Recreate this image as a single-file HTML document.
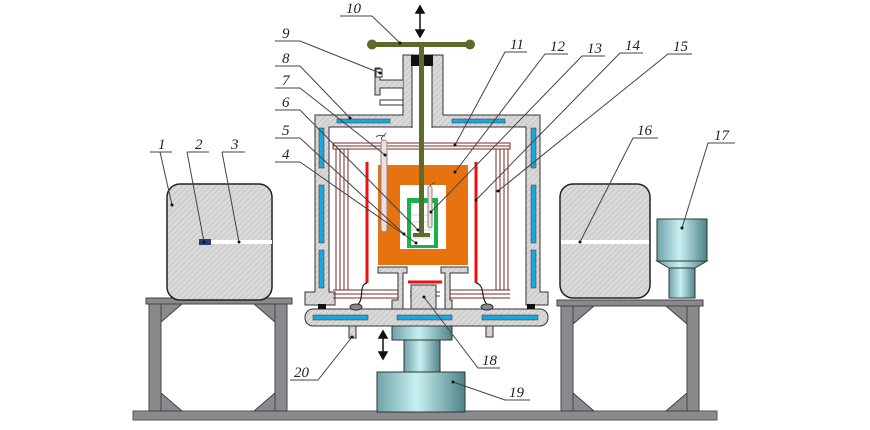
<!DOCTYPE html>
<html><head><meta charset="utf-8"><style>html,body{margin:0;padding:0;background:#fff}svg{display:block}</style></head><body>
<svg width="870" height="430" viewBox="0 0 870 430" xmlns="http://www.w3.org/2000/svg">
<defs>
<pattern id="h" width="4" height="4" patternUnits="userSpaceOnUse" patternTransform="rotate(45)">
<rect width="4" height="4" fill="#d9d9d9"/><line x1="0" y1="0" x2="0" y2="4" stroke="#b5b5b5" stroke-width="1"/></pattern>
<linearGradient id="cy" x1="0" x2="1" y1="0" y2="0">
<stop offset="0" stop-color="#6fa3a8"/><stop offset="0.45" stop-color="#c8f0f2"/><stop offset="1" stop-color="#4f8388"/></linearGradient>
</defs>
<rect x="133" y="411" width="584" height="9" fill="#8a8a8e" stroke="#555" stroke-width="1"/>
<g fill="#8a8a8e" stroke="#444" stroke-width="1">
<rect x="146" y="298" width="146" height="6"/>
<rect x="149" y="304" width="12" height="107"/><rect x="275" y="304" width="12" height="107"/>
<polygon points="161,304 182,304 161,322"/><polygon points="275,304 254,304 275,322"/>
<polygon points="161,411 182,411 161,393"/><polygon points="275,411 254,411 275,393"/>
<rect x="557" y="300" width="146" height="6"/>
<rect x="561" y="306" width="12" height="105"/><rect x="687" y="306" width="12" height="105"/>
<polygon points="573,306 594,306 573,324"/><polygon points="687,306 666,306 687,324"/>
<polygon points="573,411 594,411 573,393"/><polygon points="687,411 666,411 687,393"/>
</g>
<rect x="167" y="184" width="105" height="116" rx="13" fill="url(#h)" stroke="#222" stroke-width="1.5"/>
<rect x="199" y="240" width="73" height="4" fill="#fff"/><rect x="199" y="239" width="12" height="6" fill="#2a3b7a"/>
<rect x="560" y="184" width="90" height="114" rx="13" fill="url(#h)" stroke="#222" stroke-width="1.5"/>
<rect x="561" y="240" width="88" height="4" fill="#fff"/>
<rect x="657" y="219" width="50" height="42" fill="url(#cy)" stroke="#333"/>
<polygon points="657,261 707,261 695,268 669,268" fill="url(#cy)" stroke="#333"/>
<rect x="669" y="268" width="26" height="30" fill="url(#cy)" stroke="#333"/>
<rect x="392" y="326" width="60" height="14" fill="url(#cy)" stroke="#333"/>
<rect x="404" y="340" width="36" height="32" fill="url(#cy)" stroke="#333"/>
<rect x="377" y="372" width="88" height="40" fill="url(#cy)" stroke="#333"/>
<path d="M315,115 H403 V55 H443 V115 H540 V292 H548 V305 H526 V127 H329 V292 H335 V305 H305 V292 H315 Z" fill="url(#h)" stroke="#333" stroke-width="1"/>
<path d="M412,66 V128 M432,66 V128" stroke="#333"/>
<rect x="412.5" y="66" width="19" height="62" fill="#fff"/>
<path d="M403,80 H380 V68 H375 V95 H380 V88 H403" fill="url(#h)" stroke="#333"/>
<rect x="376" y="69" width="6" height="8" fill="#fff" stroke="#333"/>
<rect x="380" y="100" width="23" height="5" fill="#fff" stroke="#333"/>
<rect x="411" y="55" width="22" height="11" fill="#111"/>
<g fill="#1aa7e0" stroke="#333" stroke-width="0.5">
<rect x="337" y="119" width="53" height="4"/><rect x="452" y="119" width="53" height="4"/>
<rect x="319" y="128" width="5" height="40"/><rect x="319" y="185" width="5" height="58"/><rect x="319" y="250" width="5" height="38"/>
<rect x="531" y="128" width="5" height="40"/><rect x="531" y="185" width="5" height="58"/><rect x="531" y="250" width="5" height="38"/>
</g>
<g stroke="#7a2a20" stroke-width="1" fill="none">
<rect x="333" y="143" width="177" height="6" fill="#fff"/>
<line x1="333" y1="146" x2="510" y2="146"/>
<line x1="336" y1="149" x2="336" y2="290"/><line x1="340" y1="149" x2="340" y2="290"/><line x1="344" y1="149" x2="344" y2="290"/><line x1="348" y1="149" x2="348" y2="290"/>
<line x1="496" y1="149" x2="496" y2="290"/><line x1="500" y1="149" x2="500" y2="290"/><line x1="504" y1="149" x2="504" y2="290"/><line x1="508" y1="149" x2="508" y2="290"/>
<line x1="333" y1="290" x2="398" y2="290"/><line x1="333" y1="294" x2="398" y2="294"/><line x1="333" y1="298" x2="398" y2="298"/>
<line x1="450" y1="290" x2="510" y2="290"/><line x1="450" y1="294" x2="510" y2="294"/><line x1="450" y1="298" x2="510" y2="298"/>
<line x1="410" y1="292" x2="440" y2="292"/><line x1="410" y1="296" x2="440" y2="296"/>
</g>
<g stroke="#ee1111" stroke-width="3" fill="none">
<line x1="367" y1="162" x2="367" y2="283"/><line x1="476" y1="162" x2="476" y2="283"/><line x1="408" y1="282" x2="442" y2="282"/>
</g>
<path d="M367,283 C358,285 365,300 357,305 M476,283 C486,285 480,300 488,305" stroke="#222" stroke-width="1.2" fill="none"/>
<rect x="378" y="165" width="90" height="100" fill="#e6730f"/>
<rect x="400" y="185" width="46" height="64" fill="#fff"/>
<rect x="407" y="198" width="31" height="50" fill="#19b24a"/>
<rect x="411" y="203" width="23" height="42" fill="#fff"/>
<g stroke="#aaa" stroke-width="0.6"><line x1="412" y1="215" x2="433" y2="215"/><line x1="412" y1="222" x2="433" y2="222"/><line x1="412" y1="230" x2="433" y2="230"/><line x1="412" y1="238" x2="433" y2="238"/></g>
<path d="M378,267 H407 V273 H403 V309 H411 V285 H436 V309 H445 V273 H441 V267 H468 V273 H450 V300 H452 V310 H392 V300 H398 V273 H378 Z" fill="url(#h)" stroke="#333"/>
<rect x="305" y="309" width="243" height="17" rx="8" fill="url(#h)" stroke="#333"/>
<g fill="#1aa7e0" stroke="#333" stroke-width="0.5"><rect x="313" y="315" width="55" height="5"/><rect x="397" y="315" width="55" height="5"/><rect x="482" y="315" width="56" height="5"/></g>
<rect x="349" y="326" width="7" height="12" fill="url(#h)" stroke="#333"/><rect x="486" y="326" width="7" height="11" fill="url(#h)" stroke="#333"/>
<rect x="318" y="304" width="8" height="5" fill="#111"/><rect x="527" y="304" width="8" height="5" fill="#111"/>
<ellipse cx="356" cy="307" rx="6" ry="3" fill="#888" stroke="#333"/><ellipse cx="487" cy="307" rx="6" ry="3" fill="#888" stroke="#333"/>
<rect x="381" y="140" width="6" height="92" rx="3" fill="#f2dcdc" stroke="#888"/>
<path d="M382,140 c-2,-4 3,-4 4,-7 M376,137 c3,-3 6,-1 9,-1" stroke="#555" fill="none"/>
<rect x="428" y="186" width="4" height="42" rx="2" fill="#f2dcdc" stroke="#888"/>
<path d="M430,186 c1,-3 4,-2 5,-4" stroke="#555" fill="none"/>
<rect x="419" y="45" width="5" height="190" fill="#5a6b2a"/>
<rect x="413" y="233" width="17" height="4" fill="#5a6b2a"/>
<rect x="372" y="42" width="98" height="5" fill="#5a6b2a"/>
<circle cx="372" cy="44.5" r="5" fill="#5a6b2a"/><circle cx="470" cy="44.5" r="5" fill="#5a6b2a"/>
<g stroke="#111" stroke-width="1.5" fill="#111">
<line x1="420" y1="10" x2="420" y2="33"/><polygon points="420,6 416,13 424,13"/><polygon points="420,37 416,30 424,30"/>
<line x1="383" y1="335" x2="383" y2="355"/><polygon points="383,331 379,338 387,338"/><polygon points="383,359 379,352 387,352"/>
</g>
<g stroke="#444" stroke-width="1" fill="none">
<polyline points="150,152 172,152"/><line x1="160" y1="152" x2="172" y2="205"/>
<polyline points="187,152 209,152"/><line x1="187" y1="152" x2="204" y2="242"/>
<polyline points="222,152 245,152"/><line x1="222" y1="152" x2="239" y2="242"/>
<polyline points="275,41 300,41 380,73"/>
<polyline points="275,66 300,66 350,118"/>
<polyline points="275,88 300,88 385,155"/>
<polyline points="275,110 300,110 418,230"/>
<polyline points="275,138 300,138 404,234"/>
<polyline points="275,162 300,162 416,243"/>
<polyline points="340,16 372,16 400,43"/>
<polyline points="527,52 505,52 455,145"/>
<polyline points="568,54 545,54 455,172"/>
<polyline points="605,56 582,56 431,212"/>
<polyline points="643,53 620,53 476,200"/>
<polyline points="692,54 668,54 498,191"/>
<polyline points="658,138 633,138 580,242"/>
<polyline points="735,143 708,143 682,228"/>
<polyline points="500,368 478,368 424,297"/>
<polyline points="530,400 505,400 453,382"/>
<polyline points="290,380 318,380 352,337"/>
</g>
<g fill="#111">
<circle cx="172" cy="205" r="1.5"/><circle cx="204" cy="242" r="1.5"/><circle cx="239" cy="242" r="1.5"/><circle cx="380" cy="73" r="1.5"/><circle cx="350" cy="118" r="1.5"/><circle cx="385" cy="155" r="1.5"/><circle cx="418" cy="230" r="1.5"/><circle cx="404" cy="234" r="1.5"/><circle cx="416" cy="243" r="1.5"/><circle cx="400" cy="43" r="1.5"/><circle cx="455" cy="145" r="1.5"/><circle cx="455" cy="172" r="1.5"/><circle cx="431" cy="212" r="1.5"/><circle cx="476" cy="200" r="1.5"/><circle cx="498" cy="191" r="1.5"/><circle cx="580" cy="242" r="1.5"/><circle cx="682" cy="228" r="1.5"/><circle cx="424" cy="297" r="1.5"/><circle cx="453" cy="382" r="1.5"/><circle cx="352" cy="337" r="1.5"/>
</g>
<g font-family="Liberation Serif, serif" font-style="italic" font-size="15" fill="#222">
<text x="158" y="149">1</text><text x="195" y="149">2</text><text x="231" y="149">3</text>
<text x="282" y="38">9</text><text x="282" y="63">8</text><text x="282" y="85">7</text><text x="282" y="107">6</text><text x="282" y="135">5</text><text x="282" y="159">4</text>
<text x="346" y="13">10</text>
<text x="510" y="49">11</text><text x="550" y="51">12</text><text x="587" y="53">13</text><text x="625" y="50">14</text><text x="673" y="51">15</text>
<text x="637" y="135">16</text><text x="714" y="140">17</text>
<text x="482" y="365">18</text><text x="509" y="397">19</text><text x="294" y="377">20</text>
</g>
</svg>
</body></html>
